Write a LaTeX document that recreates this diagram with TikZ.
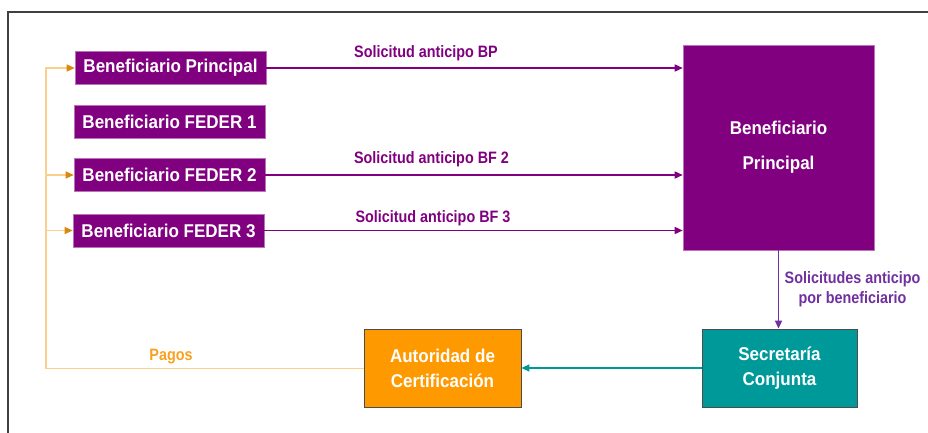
\documentclass[tikz,border=0pt]{standalone}
\usepackage{fontspec}
\setmainfont{Liberation Sans}
\newfontfamily\cajafont[FakeStretch=0.92]{Liberation Sans}
\newfontfamily\etiqfont[FakeStretch=0.87]{Liberation Sans}
\usetikzlibrary{arrows.meta}
\definecolor{morado}{HTML}{800080}
\definecolor{violeta}{HTML}{7030A0}
\definecolor{verde}{HTML}{009999}
\definecolor{naranja}{HTML}{FF9900}
\definecolor{naranjaclaro}{HTML}{FAD08C}
\definecolor{naranjatexto}{HTML}{F9A020}
\tikzset{
	caja/.style={fill=morado, draw=morado!55, line width=0.6pt, text=white, inner sep=0pt,
		font=\cajafont\fontsize{18.5}{20}\selectfont\bfseries, minimum width=191pt, minimum height=33pt},
	cajagris/.style={draw=black!70, line width=0.8pt, text=white, inner sep=0pt, align=center,
		font=\cajafont\fontsize{18.5}{24.5}\selectfont\bfseries, minimum height=78pt},
	etiqueta/.style={inner sep=0pt, font=\etiqfont\fontsize{16.5}{19.5}\selectfont\bfseries},
	flechamorada/.style={morado, line width=1.5pt, -{Triangle[length=8pt,width=7pt]}},
	flechavioleta/.style={violeta, line width=1.5pt, -{Triangle[length=8pt,width=7pt]}},
	flechaverde/.style={verde, line width=1.6pt, -{Triangle[length=8pt,width=7pt]}},
	lineapago/.style={naranjaclaro, line width=1.4pt},
	puntapago/.style={-{Triangle[length=8pt,width=7pt,color=naranja!85!black!95]}}
}
\begin{document}
\begin{tikzpicture}[x=1pt, y=-1pt]
	\useasboundingbox (0,0) rectangle (928,433);
	%marco
	\draw[line width=1.3pt, black!75] (8,433) -- (8,12) -- (928,12);
	
	%beneficiarios
	\node[caja] (bp) at (170.5,68) {Beneficiario Principal};
	\node[caja] (f1) at (169.5,121.5) {Beneficiario FEDER 1};
	\node[caja] (f2) at (169.5,175) {Beneficiario FEDER 2};
	\node[caja] (f3) at (168.5,230.5) {Beneficiario FEDER 3};
	
	\node[caja, minimum height=205pt, align=center, font=\cajafont\fontsize{18.5}{35}\selectfont\bfseries] (bpg) at (778.5,147.5) {Beneficiario\\Principal};
	
	\node[cajagris, fill=verde, minimum width=155pt] (sc) at (779.5,368) {Secretaría\\Conjunta};
	\node[cajagris, fill=naranja, minimum width=157pt] (ac) at (442.5,368.5) {Autoridad de\\Certificación};
	
	%solicitudes
	\draw[flechamorada] (bp.east) -- (bp.east -| bpg.west);
	\draw[flechamorada] (f2.east) -- (f2.east -| bpg.west);
	\draw[flechamorada] (f3.east) -- (f3.east -| bpg.west);
	\node[etiqueta, morado, anchor=base] (lbp) at (426,58) {Solicitud anticipo BP};
	\node[etiqueta, morado, anchor=base] (lf2) at (431.5,163) {Solicitud anticipo BF 2};
	\node[etiqueta, morado, anchor=base] (lf3) at (433,222.5) {Solicitud anticipo BF 3};
	
	\draw[flechavioleta] (bpg.south) -- (bpg.south |- sc.north);
	\node[etiqueta, violeta, align=center] (lsb) at (852.5,289) {Solicitudes anticipo\\por beneficiario};
	
	\draw[flechaverde] (sc.west) -- (sc.west -| ac.east);
	
	%pagos
	\coordinate (esq) at (46,368.5);
	\draw[lineapago, puntapago] (ac.west) -- (esq) |- (bp.west);
	\draw[lineapago, puntapago] (f2.west -| esq) -- (f2.west);
	\draw[lineapago, puntapago] (f3.west -| esq) -- (f3.west);
	\node[etiqueta, naranjatexto, anchor=base] (lpg) at (171,360) {Pagos};
\end{tikzpicture}
\end{document}
